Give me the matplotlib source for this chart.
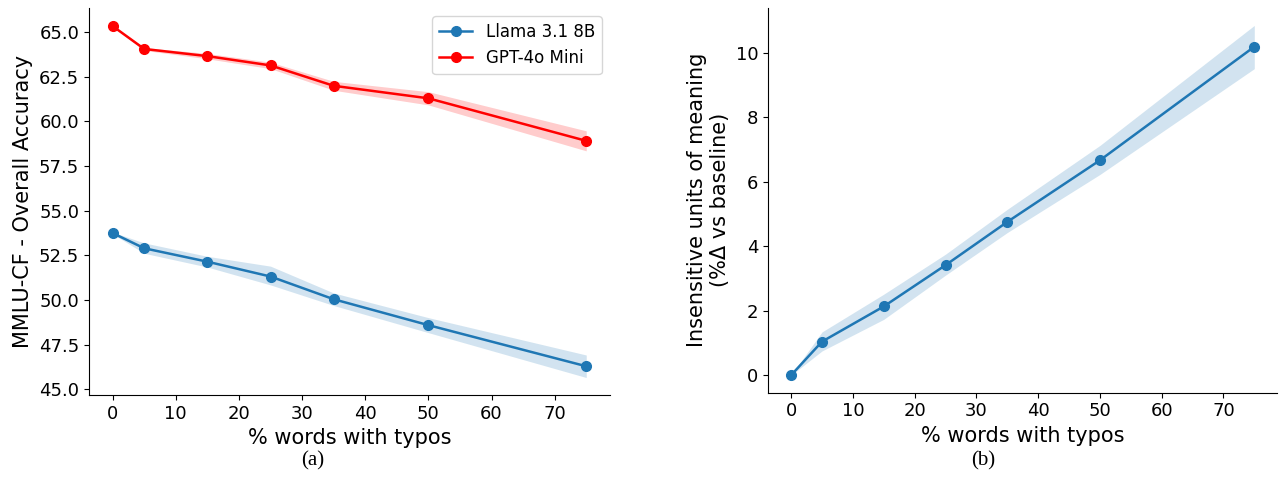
import numpy as np
import matplotlib.pyplot as plt

typos = [0, 5, 15, 25, 35, 50, 75]

# (a) accuracy
llama_acc = [53.75, 52.9, 52.15, 51.32, 50.05, 48.6, 46.3]
llama_lo = [53.7, 52.62, 51.85, 50.85, 49.7, 48.18, 45.67]
llama_hi = [53.8, 53.2, 52.45, 51.9, 50.4, 49.02, 46.93]
gpt_acc = [65.33, 64.05, 63.65, 63.13, 61.99, 61.29, 58.91]
gpt_lo = [65.3, 63.97, 63.5, 62.95, 61.74, 60.92, 58.35]
gpt_hi = [65.36, 64.13, 63.8, 63.31, 62.24, 61.66, 59.47]

# (b) insensitive units
ins = [0.0, 1.04, 2.13, 3.41, 4.75, 6.66, 10.18]
ins_lo = [0.0, 0.75, 1.73, 3.10, 4.42, 6.22, 9.50]
ins_hi = [0.0, 1.34, 2.51, 3.75, 5.14, 7.12, 10.84]

xticks = [0, 10, 20, 30, 40, 50, 60, 70]

plt.rcParams['font.size'] = 13
fig = plt.figure(figsize=(12.8, 4.97), dpi=100)

ax1 = fig.add_axes([0.0695, 0.205, 0.407, 0.779])
ax1.plot(typos, llama_acc, '-o', color='tab:blue', label='Llama 3.1 8B', lw=1.8, ms=7)
ax1.fill_between(typos, llama_lo, llama_hi, color='tab:blue', alpha=0.2, lw=0)
ax1.plot(typos, gpt_acc, '-o', color='red', label='GPT-4o Mini', lw=1.8, ms=7)
ax1.fill_between(typos, gpt_lo, gpt_hi, color='red', alpha=0.2, lw=0)
ax1.set_xticks(xticks)
ax1.set_xlabel('% words with typos', fontsize=15)
ax1.set_ylabel('MMLU-CF - Overall Accuracy', fontsize=15)
ax1.legend(loc='upper right', fontsize=12)
ax1.spines['top'].set_visible(False)
ax1.spines['right'].set_visible(False)

ax2 = fig.add_axes([0.6, 0.21, 0.398, 0.774])
ax2.plot(typos, ins, '-o', color='tab:blue', lw=1.8, ms=7)
ax2.fill_between(typos, ins_lo, ins_hi, color='tab:blue', alpha=0.2, lw=0)
ax2.set_xticks(xticks)
ax2.set_xlabel('% words with typos', fontsize=15)
ax2.set_ylabel('Insensitive units of meaning\n(%Δ vs baseline)', fontsize=15)
ax2.spines['top'].set_visible(False)
ax2.spines['right'].set_visible(False)

fig.text(0.244, 0.072, '(a)', ha='center', va='center', family='Liberation Serif', fontsize=15)
fig.text(0.768, 0.072, '(b)', ha='center', va='center', family='Liberation Serif', fontsize=15)

fig.savefig('out.png', dpi=100)
